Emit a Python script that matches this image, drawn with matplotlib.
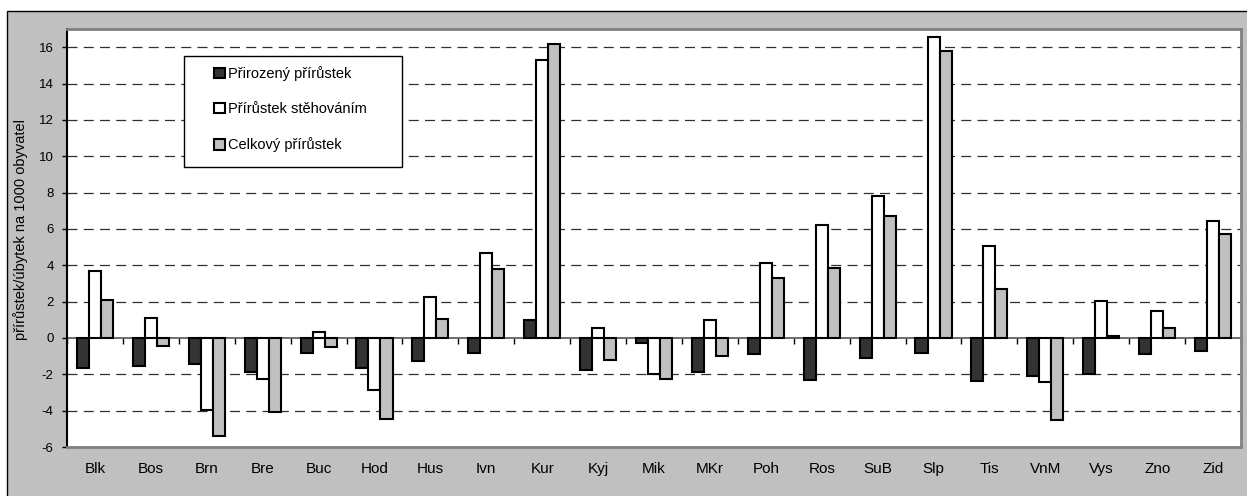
import matplotlib.pyplot as plt
import matplotlib.patches as mpatches
import numpy as np

# obce / mestske casti
categories = ["Blk", "Bos", "Brn", "Bre", "Buc", "Hod", "Hus", "Ivn", "Kur", "Kyj", "Mik",
              "MKr", "Poh", "Ros", "SuB", "Slp", "Tis", "VnM", "Vys", "Zno", "Zid"]

# prirustek/ubytek na 1000 obyvatel
prirozeny = [-1.63, -1.54, -1.45, -1.87, -0.84, -1.63, -1.28, -0.84, 0.97, -1.74, -0.27,
             -1.90, -0.86, -2.34, -1.10, -0.82, -2.38, -2.12, -1.96, -0.91, -0.73]
stehovani = [3.71, 1.10, -3.99, -2.27, 0.35, -2.88, 2.26, 4.70, 15.27, 0.55, -2.01,
             0.97, 4.15, 6.19, 7.83, 16.56, 5.06, -2.42, 2.02, 1.49, 6.44]
celkovy = [2.09, -0.44, -5.41, -4.10, -0.49, -4.47, 1.03, 3.82, 16.19, -1.19, -2.27,
           -0.97, 3.30, 3.85, 6.71, 15.77, 2.72, -4.54, 0.09, 0.57, 5.70]

series = [("Přirozený přírůstek", prirozeny, "#333333"),
          ("Přírůstek stěhováním", stehovani, "#ffffff"),
          ("Celkový přírůstek", celkovy, "#c0c0c0")]

plt.rcParams['font.family'] = ['Liberation Sans', 'DejaVu Sans']
plt.rcParams['axes.unicode_minus'] = False

fig = plt.figure(figsize=(12.47, 4.96), dpi=100)
fig.patch.set_facecolor("white")
# sede pozadi grafu s cernym okrajem
fig.patches.append(mpatches.Rectangle((7 / 1247, -0.05), 1.1, 1 - 11 / 496 + 0.05,
                                      transform=fig.transFigure, facecolor="#c0c0c0",
                                      edgecolor="black", linewidth=1, zorder=-10))

ax = fig.add_axes([67 / 1247, 1 - 447 / 496, (1241 - 67) / 1247, (447 - 29) / 496])
ax.set_facecolor("white")

x = np.arange(len(categories))
w = 0.215
for i, (name, vals, col) in enumerate(series):
    ax.bar(x + (i - 1) * w, vals, w, color=col, edgecolor="black", linewidth=1.5,
           label=name, zorder=3)

ax.set_xlim(-0.5, len(categories) - 0.5)
ax.set_ylim(-6, 17)
ax.set_yticks(np.arange(-6, 17, 2))
ax.set_xticks(x)
ax.set_xticklabels(categories, fontsize=11)
ax.tick_params(axis="x", length=0, pad=11)
ax.tick_params(axis="y", length=3.6, width=1, pad=6, labelsize=9.5, direction="out")

# vodorovne carkovane cary
for yv in ax.get_yticks():
    if yv not in (0, -6):
        ax.axhline(yv, color="#303030", linewidth=0.9, linestyle=(0, (8, 5)), zorder=1)

# osa x v nule s carkami mezi kategoriemi
sec = ax.secondary_xaxis(6 / 23)
sec.set_xticks(np.arange(-0.5, len(categories), 1))
sec.set_xticklabels([])
sec.tick_params(axis="x", length=4, width=1, color="black", direction="out")
sec.spines["bottom"].set_color("#606060")
sec.spines["bottom"].set_linewidth(1.3)

ax.spines["left"].set_color("black")
ax.spines["left"].set_linewidth(1.5)
for s in ("top", "right", "bottom"):
    ax.spines[s].set_color("#808080")
    ax.spines[s].set_linewidth(2)

ax.set_ylabel("přírůstek/úbytek na 1000 obyvatel", fontsize=10.5)
ax.yaxis.set_label_coords(-0.033, 0.52)

# legenda v ramecku
box = mpatches.Rectangle(((184 - 67) / 1174, (447 - 167) / 418), 218 / 1174, 111 / 418,
                         transform=ax.transAxes, facecolor="white", edgecolor="black",
                         linewidth=1, zorder=4)
ax.add_patch(box)
leg = ax.legend(loc="upper left", bbox_to_anchor=((214 - 67) / 1174, (447 - 66) / 418),
                frameon=False, fontsize=10.5, handlelength=0.75, handleheight=0.75,
                handletextpad=0.2, labelspacing=1.45, borderpad=0, borderaxespad=0)
leg.set_zorder(5)

fig.savefig("out.png", dpi=100)
